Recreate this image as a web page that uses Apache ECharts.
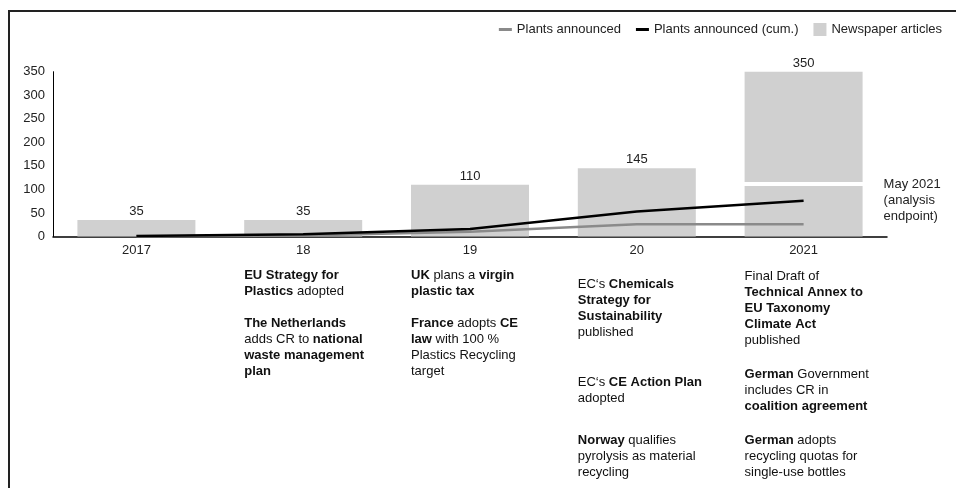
<!DOCTYPE html>
<html>
<head>
<meta charset="utf-8">
<script src="https://cdn.jsdelivr.net/npm/echarts@6/dist/echarts.min.js"></script>
<style>
  html, body { margin: 0; padding: 0; background: #fff; }
  #chart { width: 956px; height: 488px; }
</style>
</head>
<body>
<div id="chart"></div>
<script>
// ---- data ----
const years = ['2017', '18', '19', '20', '2021'];
const articlesLower = [35, 35, 110, 145, 107];
const articlesGap = [null, null, null, null, 9];
const articlesUpper = [null, null, null, null, 234];
const articlesLabels = [35, 35, 110, 145, 350];
const plantsAnnounced = [0, 2, 10, 26, 26];
const plantsCumulative = [1, 5, 16, 53, 76];
const yTicks = [0, 50, 100, 150, 200, 250, 300, 350];
const endpointNote = 'May 2021\n(analysis\nendpoint)';
const notes = [
  { cat: '18', paras: [
    '{b|EU Strategy for}\n{b|Plastics} adopted',
    '{b|The Netherlands}\nadds CR to {b|national}\n{b|waste management}\n{b|plan}'
  ], tops: [267, 315] },
  { cat: '19', paras: [
    '{b|UK} plans a {b|virgin}\n{b|plastic tax}',
    '{b|France} adopts {b|CE}\n{b|law} with 100 %\nPlastics Recycling\ntarget'
  ], tops: [267, 315] },
  { cat: '20', paras: [
    'EC\u2018s {b|Chemicals}\n{b|Strategy for}\n{b|Sustainability}\npublished',
    'EC\u2018s {b|CE Action Plan}\nadopted',
    '{b|Norway} qualifies\npyrolysis as material\nrecycling'
  ], tops: [276, 374, 432] },
  { cat: '2021', paras: [
    'Final Draft of\n{b|Technical Annex to}\n{b|EU Taxonomy}\n{b|Climate Act}\npublished',
    '{b|German} Government\nincludes CR in\n{b|coalition agreement}',
    '{b|German} adopts\nrecycling quotas for\nsingle-use bottles'
  ], tops: [268, 366, 432] }
];

const FONT = '"Liberation Sans", Arial, Helvetica, sans-serif';
const BAR_W = 118;
const BAR_COLOR = '#d0d0d0';
const DASH_ICON = 'path://M0,0H13V3H0Z';

const chart = echarts.init(document.getElementById('chart'), null, { renderer: 'canvas' });

const option = {
  animation: false,
  backgroundColor: '#fff',
  textStyle: { fontFamily: FONT },
  legend: {
    right: 9, top: 18,
    itemWidth: 13, itemHeight: 13, itemGap: 15,
    textStyle: { fontFamily: FONT, fontSize: 13, color: '#222' },
    data: [
      { name: 'Plants announced', icon: DASH_ICON },
      { name: 'Plants announced (cum.)', icon: DASH_ICON },
      { name: 'Newspaper articles', icon: 'rect' }
    ]
  },
  grid: { left: 53, right: 69, top: 71.7, bottom: 251.5, containLabel: false },
  xAxis: {
    type: 'category',
    data: years,
    axisLine: { show: true, lineStyle: { color: '#000', width: 1.5 } },
    axisTick: { show: false },
    axisLabel: { fontFamily: FONT, fontSize: 13, color: '#222', margin: 7 }
  },
  yAxis: {
    type: 'value',
    min: yTicks[0], max: yTicks[yTicks.length - 1], interval: 50,
    axisLine: { show: true, lineStyle: { color: '#000', width: 1 } },
    axisTick: { show: false },
    splitLine: { show: false },
    axisLabel: { fontFamily: FONT, fontSize: 13, color: '#222', margin: 8 }
  },
  series: [
    {
      name: 'Newspaper articles', type: 'bar', stack: 'art', barWidth: BAR_W,
      data: articlesLower,
      itemStyle: { color: BAR_COLOR },
      label: {
        show: true, position: 'top', distance: 2,
        fontFamily: FONT, fontSize: 13, color: '#222',
        formatter: p => (articlesUpper[p.dataIndex] == null ? String(articlesLabels[p.dataIndex]) : '')
      },
      z: 1
    },
    {
      name: 'gap', type: 'bar', stack: 'art', barWidth: BAR_W,
      data: articlesGap,
      itemStyle: { color: 'rgba(0,0,0,0)' },
      silent: true, z: 1
    },
    {
      name: 'Newspaper articles', type: 'bar', stack: 'art', barWidth: BAR_W,
      data: articlesUpper,
      itemStyle: { color: BAR_COLOR },
      label: {
        show: true, position: 'top', distance: 2,
        fontFamily: FONT, fontSize: 13, color: '#222',
        formatter: p => String(articlesLabels[p.dataIndex])
      },
      z: 1
    },
    {
      name: 'Plants announced', type: 'line', data: plantsAnnounced,
      symbol: 'none', lineStyle: { color: '#8a8a8a', width: 2.5 },
      itemStyle: { color: '#8a8a8a' }, z: 3
    },
    {
      name: 'Plants announced (cum.)', type: 'line', data: plantsCumulative,
      symbol: 'none', lineStyle: { color: '#000', width: 2.5 },
      itemStyle: { color: '#000' }, z: 4,
      endLabel: {
        show: true, formatter: endpointNote, distance: 80,
        fontFamily: FONT, fontSize: 13, lineHeight: 16, color: '#222',
        align: 'left', verticalAlign: 'middle'
      }
    }
  ]
};

chart.setOption(option);

// annotations under the category axis, left-aligned with the bar's left edge
const graphics = [
  { type: 'line', shape: { x1: 9, y1: 11, x2: 9, y2: 488 }, style: { stroke: '#222', lineWidth: 2 } },
  { type: 'line', shape: { x1: 8, y1: 11, x2: 956, y2: 11 }, style: { stroke: '#222', lineWidth: 2 } }
];
notes.forEach(n => {
  const cx = chart.convertToPixel({ xAxisIndex: 0 }, n.cat);
  n.paras.forEach((t, i) => {
    graphics.push({
      type: 'text',
      x: cx - BAR_W / 2,
      y: n.tops[i],
      style: {
        text: t,
        fontFamily: FONT, fontSize: 13, lineHeight: 16, fill: '#111',
        align: 'left', verticalAlign: 'top',
        rich: { b: { fontFamily: FONT, fontSize: 13, lineHeight: 16, fontWeight: 'bold', fill: '#111' } }
      }
    });
  });
});
chart.setOption({ graphic: graphics });
</script>
</body>
</html>
